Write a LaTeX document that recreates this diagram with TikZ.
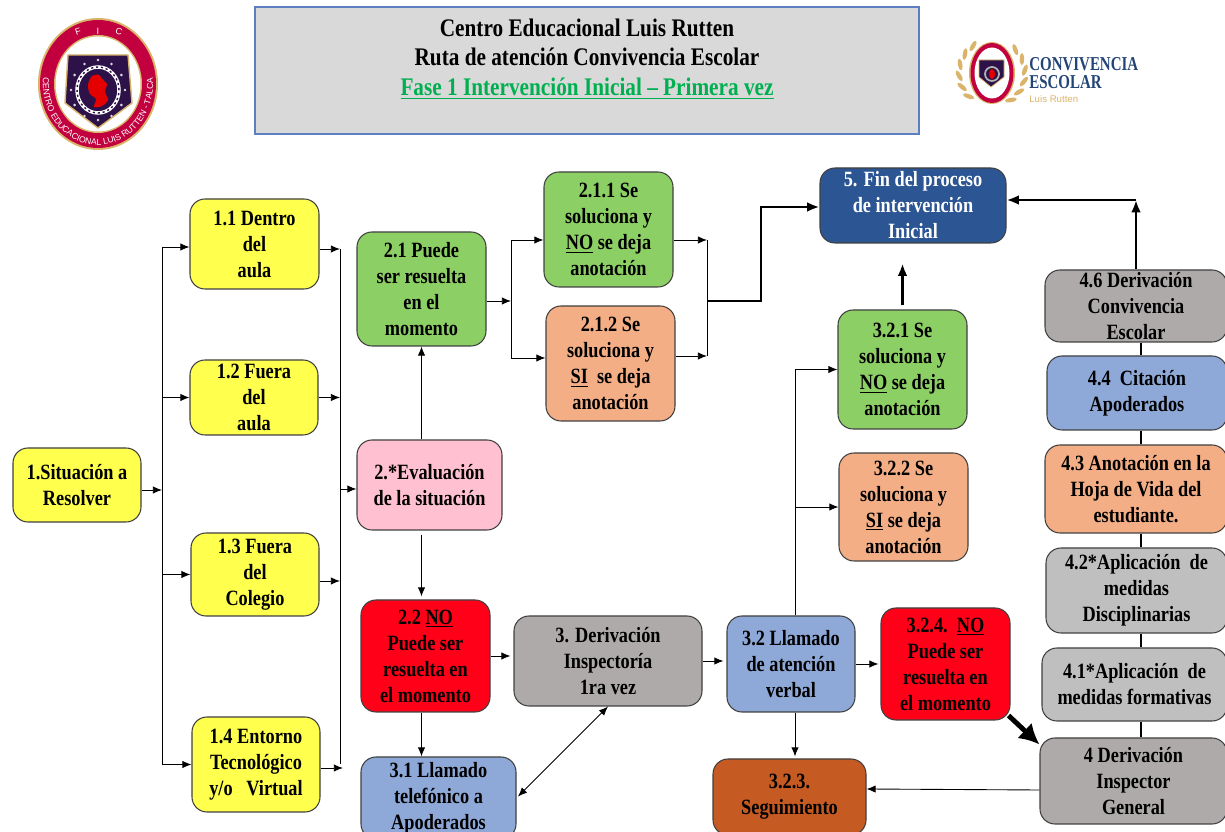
\documentclass[tikz,border=0pt]{standalone}
\usepackage{fontspec}
\setmainfont{Liberation Serif}[FakeStretch=0.84]
\newfontfamily\logofont{Liberation Sans}
\newfontfamily\brandfont{Liberation Serif}[FakeStretch=0.76]
\usetikzlibrary{arrows.meta,decorations.text}
\definecolor{yel}{HTML}{FFFF4D}
\definecolor{grn}{HTML}{8CCF64}
\definecolor{ora}{HTML}{F4AE85}
\definecolor{pnk}{HTML}{FFC0D2}
\definecolor{rd}{HTML}{FF0018}
\definecolor{gry}{HTML}{AEAAAA}
\definecolor{lgry}{HTML}{BFBFBF}
\definecolor{blu}{HTML}{8EA9D8}
\definecolor{nvy}{HTML}{2C5594}
\definecolor{brn}{HTML}{C55A22}
\definecolor{crimson}{HTML}{C2003F}
\definecolor{logogold}{HTML}{D9B46A}
\definecolor{shieldp}{HTML}{2C1248}
\definecolor{titlegrn}{HTML}{00B050}
\definecolor{headline}{HTML}{5B7FBF}
\tikzset{
    box/.style={draw=black!75, line width=.6pt, rounded corners=.3cm, inner sep=0pt, align=center,
        font=\fontsize{12.4}{14.8}\selectfont\bfseries},
    wh/.style 2 args={minimum width=#1*.02cm, minimum height=#2*.02cm},
    ybox/.style={box, fill=yel},
    gbox/.style={box, fill=grn},
    obox/.style={box, fill=ora},
    rbox/.style={box, fill=rd},
    bbox/.style={box, fill=blu},
    grbox/.style={box, fill=gry},
    lbox/.style={box, fill=lgry},
    thin line/.style={line width=.5pt},
    thick line/.style={line width=1.6pt, >={Latex[length=7pt,width=5.5pt]}},
    link/.style={line width=1.6pt}
}
\begin{document}
\begin{tikzpicture}[x=.02cm, y=.02cm, >={Latex[length=5.2pt,width=4.2pt]}]
    \useasboundingbox (0,0) rectangle (1225,832);

    \node[draw=headline, line width=.6pt, fill=black!15, wh={664}{127}, inner sep=0pt] at (587,761.5) (head){};
    \node[align=center, font=\fontsize{14.4}{17}\selectfont\bfseries] at (587,773) (title){Centro Educacional Luis Rutten\\Ruta de atención Convivencia Escolar\\\textcolor{titlegrn}{\underline{Fase 1 Intervención Inicial – Primera vez}}};

    \fill[logogold] (98,748) ellipse[x radius=60, y radius=66];
    \fill[crimson] (98,748) ellipse[x radius=58, y radius=64];
    \fill[logogold] (98,748) ellipse[x radius=44, y radius=49];
    \fill[white] (98,748) ellipse[x radius=42.5, y radius=47.5];
    \path[postaction={decorate}, decoration={text along path, text align=center,
        text={|\logofont\fontsize{4.9}{6}\selectfont\color{white}|CENTRO EDUCACIONAL LUIS RUTTEN - TALCA}}]
        (98,748) ++(165:55 and 61) arc[start angle=165, end angle=375, x radius=55, y radius=61];
    \node[rotate=18, text=white, font=\logofont\fontsize{5.2}{6}\selectfont] at (78,800) (logof){F};
    \node[text=white, font=\logofont\fontsize{5.2}{6}\selectfont] at (98,801) (logoi){I};
    \node[rotate=-18, text=white, font=\logofont\fontsize{5.2}{6}\selectfont] at (119,800) (logoc){C};
    \filldraw[fill=shieldp, draw=logogold, line width=.8pt] (68,777) -- (128,777) -- (132,729) -- (98,704) -- (65,729) -- cycle;
    \foreach \a in {0,30,...,330}
        \fill[white!85!black] (98,742) ++(\a:27 and 30) circle (1.4);
    \draw[white, line width=2pt] (98,742) ellipse[x radius=21, y radius=23];
    \draw[shieldp, line width=.8pt, dash pattern=on 1.2pt off 1.6pt] (98,742) ellipse[x radius=21, y radius=23];
    \fill[red!90!black] plot[smooth cycle] coordinates {(92,756) (99,757) (103,752) (107,748) (105,740) (108,732) (102,726) (94,725) (96,733) (90,738) (88,747)};

    \begin{scope}[shift={(992,759)}]
        \foreach \a in {125,145,...,235}
            \fill[logogold, rotate=\a, shift={(33,0)}, rotate=25] (0,0) ellipse[x radius=2.2, y radius=6];
        \foreach \a in {-55,-35,...,55}
            \fill[logogold, rotate=\a, shift={(33,0)}, rotate=-25] (0,0) ellipse[x radius=2.2, y radius=6];
        \fill[logogold] (0,0) ellipse[x radius=23, y radius=31];
        \fill[crimson] (0,0) ellipse[x radius=21.5, y radius=30];
        \fill[white] (0,0) ellipse[x radius=17.5, y radius=25.5];
        \filldraw[fill=shieldp, draw=logogold, line width=.4pt] (-13,13) -- (12,13) -- (12,-4) -- (-1,-14) -- (-13,-4) -- cycle;
        \draw[white!70!black, line width=1pt] (0,-1) circle (7);
        \fill[red!90!black] (0,-1) ellipse[x radius=3, y radius=5];
    \end{scope}
    \node[anchor=west, inner sep=0pt, text=nvy!80!black, font=\brandfont\fontsize{11.2}{12}\selectfont\bfseries] at (1029,768) (conv){CONVIVENCIA};
    \node[anchor=west, inner sep=0pt, text=nvy!80!black, font=\brandfont\fontsize{11.2}{12}\selectfont\bfseries] at (1029,750) (esco){ESCOLAR};
    \node[anchor=west, inner sep=0pt, text=logogold, font=\logofont\fontsize{5.5}{6}\selectfont] at (1029,733) (luis){Luis Rutten};

    \node[ybox, wh={128}{74}] at (77,347) (sit){1.Situación a\\Resolver};
    \node[ybox, wh={129}{90}] at (254.5,588) (n11){1.1 Dentro\\del\\aula};
    \node[ybox, wh={128}{75}] at (254,434.5) (n12){1.2 Fuera\\del\\aula};
    \node[ybox, wh={128}{83}] at (255,257.5) (n13){1.3 Fuera\\del\\Colegio};
    \node[ybox, wh={128}{95}] at (256,67.5) (n14){1.4 Entorno\\Tecnológico\\y/o\ \ \ Virtual};
    \node[gbox, wh={129}{114}] at (421.5,543) (n21){2.1 Puede\\ser resuelta\\en el\\momento};
    \node[box, fill=pnk, wh={145}{90}] at (429.5,347) (n2){2.*Evaluación\\de la situación};
    \node[rbox, wh={129}{112}] at (425.5,176) (n22){2.2 \underline{NO}\\Puede ser\\resuelta en\\el momento};
    \node[bbox, wh={155}{82}] at (438.5,34) (n31){3.1 Llamado\\telefónico a\\Apoderados};
    \node[grbox, wh={188}{90}] at (608,171) (n3){3. Derivación\\Inspectoría\\1ra vez};
    \node[gbox, wh={129}{115}] at (608.5,602.5) (n211){2.1.1 Se\\soluciona y\\\underline{NO} se deja\\anotación};
    \node[obox, wh={129}{115}] at (610.5,468.5) (n212){2.1.2 Se\\soluciona y\\\underline{SI}\ \ se deja\\anotación};
    \node[box, fill=nvy, text=white, wh={186}{75}] at (913,626.5) (n5){5. Fin del proceso\\de intervención\\Inicial};
    \node[gbox, wh={129}{119}] at (902.5,462.5) (n321){3.2.1 Se\\soluciona y\\\underline{NO} se deja\\anotación};
    \node[obox, wh={129}{108}] at (903.5,325) (n322){3.2.2 Se\\soluciona y\\\underline{SI} se deja\\anotación};
    \node[bbox, wh={128}{96}] at (791,168) (n32){3.2 Llamado\\de atención\\verbal};
    \node[rbox, wh={129}{112}] at (945.5,168) (n324){3.2.4.\ \ \underline{NO}\\Puede ser\\resuelta en\\el momento};
    \node[box, fill=brn, wh={153}{76}] at (789.5,35) (n323){3.2.3.\\Seguimiento};
    \node[grbox, wh={182}{72}] at (1136,526) (n46){4.6 Derivación\\Convivencia\\Escolar};
    \node[bbox, wh={180}{74}] at (1137,439) (n44){4.4\ \ Citación\\Apoderados};
    \node[obox, wh={182}{88}] at (1136,343) (n43){4.3 Anotación en la\\Hoja de Vida del\\estudiante.};
    \node[lbox, wh={181}{85}] at (1136.5,241.5) (n42){4.2*Aplicación\ \ de\\medidas\\Disciplinarias};
    \node[lbox, wh={185}{73}] at (1134.5,147.5) (n41){4.1*Aplicación\ \ de\\medidas formativas};
    \node[grbox, wh={187}{86}] at (1133.5,51) (n4){4 Derivación\\Inspector\\General};

    \coordinate (busl) at (162,342);
    \coordinate (busr) at (340,343);
    \coordinate (busm) at (511,531);
    \coordinate (bust) at (707,531);
    \coordinate (busv) at (795,325);
    \coordinate (bend) at (761,625);
    \coordinate (corner) at (1136,632);
    \coordinate (lnk) at (1141,0);

    \draw[->, thin line] (sit.east |- busl) -- (busl);
    \draw[thin line] ([yshift=-.06cm]busl |- n11.west) -- (busl |- n14.west);
    \draw[->, thin line] ([yshift=-.06cm]busl |- n11.west) -- ([yshift=-.06cm]n11.west);
    \draw[->, thin line] (busl |- n12.west) -- (n12.west);
    \draw[->, thin line] (busl |- n13.west) -- (n13.west);
    \draw[->, thin line] (busl |- n14.west) -- (n14.west);

    \draw[->, thin line] ([yshift=-.1cm]n11.east) -- ([yshift=-.1cm]n11.east -| busr);
    \draw[->, thin line] (n12.east) -- (n12.east -| busr);
    \draw[->, thin line] ([yshift=-.13cm]n13.east) -- ([yshift=-.13cm]n13.east -| busr);
    \draw[->, thin line, shorten >=-.06cm] ([yshift=-.07cm]n14.east) -- ([yshift=-.07cm]n14.east -| busr);
    \draw[thin line] ([yshift=-.1cm]n11.east -| busr) -- (n14.east -| busr);
    \draw[->, thin line] (busr) -- (busr -| n2.west);

    \draw[->, thin line] (n21.south |- n2.north) -- (n21.south);
    \draw[->, thin line, shorten <=.08cm, shorten >=.06cm] (n21.south |- n2.south) -- (n21.south |- n22.north);
    \draw[->, thin line] (n21.south |- n22.south) -- (n21.south |- n31.north);
    \draw[->, thin line, shorten >=.06cm] (n22.east) -- (n22.east -| n3.west);
    \draw[<->, thin line, shorten >=.04cm] (n3.south) -- (n31.east);
    \draw[->, thin line, shorten >=.06cm] (n3.east) -- (n3.east -| n32.west);

    \draw[->, thin line] (n21.east |- busm) -- (busm);
    \draw[thin line] ([yshift=-.21cm]n211.west -| busm) -- ([yshift=.11cm]n212.west -| busm);
    \draw[->, thin line] ([yshift=-.21cm]n211.west -| busm) -- ([yshift=-.21cm]n211.west);
    \draw[->, thin line] ([yshift=.11cm]n212.west -| busm) -- ([yshift=.11cm]n212.west);
    \draw[->, thin line] ([yshift=-.21cm]n211.east) -- ([yshift=-.21cm]n211.east -| bust);
    \draw[->, thin line] ([yshift=.15cm]n212.east) -- ([yshift=.15cm]n212.east -| bust);
    \draw[thin line] ([yshift=-.21cm]n211.east -| bust) -- ([yshift=.15cm]n212.east -| bust);
    \draw[->, thick line] (bust) -| (bend) -- (bend -| n5.west);

    \draw[->, thick line, shorten <=.08cm, shorten >=.4cm] (n321.north) -- (n321.north |- n5.south);
    \draw[->, thick line] (n46.north) -- (corner);
    \draw[->, thick line] (corner) -- (corner -| n5.east);
    \foreach \a/\b in {n46/n44,n44/n43,n43/n42,n42/n41,n41/n4}
        \draw[link] (\a.south -| lnk) -- (\b.north -| lnk);

    \draw[->, thin line] (busv |- n32.north) |- (n321.west);
    \draw[->, thin line] (busv) -- (n322.west);
    \draw[->, thin line, shorten >=.04cm] (busv |- n32.south) -- (busv |- n323.north);
    \draw[->, thin line, shorten >=.04cm] (n32.east) -- (n32.east -| n324.west);
    \draw[-{Latex[length=11.5pt,width=12pt]}, line width=2.8pt] ([xshift=-.04cm,yshift=.1cm]n324.south east) -- ([yshift=-.14cm]n4.north west);
    \draw[->, thin line] ([yshift=-.18cm]n4.west) -- ([yshift=.16cm]n323.east);
\end{tikzpicture}
\end{document}
